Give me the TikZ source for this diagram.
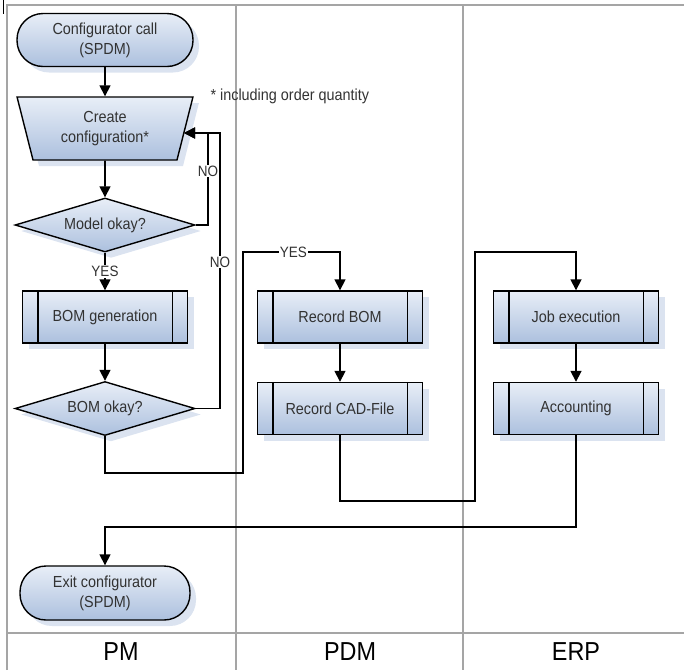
\documentclass[tikz,border=0pt]{standalone}
\usepackage{fontspec}
\setmainfont{Liberation Sans}[FakeStretch=0.9]
\usetikzlibrary{shapes.geometric,arrows.meta,shadows,calc}
\definecolor{boxtop}{RGB}{232,238,247}
\definecolor{boxbot}{RGB}{172,192,222}
\definecolor{shad}{RGB}{219,227,240}
\definecolor{txt}{RGB}{50,50,50}
\definecolor{lanecol}{RGB}{165,165,165}
\tikzset{
  base/.style={draw=black, line width=1.4pt, top color=boxtop, bottom color=boxbot,
    text=txt, font=\fontsize{16}{20}\selectfont, align=center,
    drop shadow={shadow xshift=6pt, shadow yshift=-6pt, fill=shad, opacity=1}},
  terminal/.style={base, rectangle, rounded corners=26pt, minimum width=176pt, minimum height=53pt, inner sep=2pt},
  proc/.style={base, rectangle, minimum width=165pt, minimum height=52pt},
  decision/.style={base, diamond, aspect=3.33, minimum width=180pt, minimum height=54pt, inner sep=0pt},
  manualop/.style={base, trapezium, shape border rotate=180, trapezium stretches=true,
    trapezium left angle=75.7, trapezium right angle=75.7, minimum width=176pt, minimum height=63pt},
  arr/.style={-{Triangle[length=11pt,width=11pt]}, line width=1.6pt, draw=black},
  lbl/.style={fill=white, inner sep=1pt, text=txt, font=\fontsize{15}{18}\selectfont},
  lanelbl/.style={text=black, font=\fontsize{26}{30}\selectfont},
  frame/.style={draw=lanecol, line width=2pt}
}
\begin{document}
\begin{tikzpicture}[x=1pt, y=-1pt]
\useasboundingbox (0,0) rectangle (684,670);
% frame
\draw[frame] (7,670) -- (7,5) -- (684,5);
\draw[frame] (236,5) -- (236,670);
\draw[frame] (463,5) -- (463,670);
\draw[frame] (7,633) -- (684,633);
\draw[black, line width=1.5pt] (3.5,0) -- (3.5,14);
% lane labels
\node[lanelbl] (pm) at (121,652) {PM};
\node[lanelbl] (pdm) at (350,652) {PDM};
\node[lanelbl] (erp) at (576,652) {ERP};
% note
\node[anchor=base west, text=txt, font=\fontsize{16}{20}\selectfont] (note) at (207,100) {* including order quantity};
% nodes
\node[terminal] (start) at (105,40) {Configurator call\\(SPDM)};
\node[manualop] (create) at (105,128.5) {Create\\configuration*};
\node[decision] (model) at (105,225) {Model okay?};
\node[proc] (bomgen) at (105,317) {BOM generation};
\node[decision] (bomok) at (105,408.5) {BOM okay?};
\node[proc] (recbom) at (340,317) {Record BOM};
\node[proc] (reccad) at (340,408.5) {Record CAD-File};
\node[proc] (jobex) at (576,317) {Job execution};
\node[proc] (acct) at (576,408.5) {Accounting};
\node[terminal, minimum width=170pt, minimum height=54pt] (exit) at (105,593) {Exit configurator\\(SPDM)};
% process side bars
\foreach \n in {bomgen,recbom,reccad,jobex,acct}{
  \draw[line width=1.4pt] ($(\n.north west)+(16,0)$) -- ($(\n.south west)+(16,0)$);
  \draw[line width=1.4pt] ($(\n.north east)+(-16,0)$) -- ($(\n.south east)+(-16,0)$);
}
% coordinates
\coordinate (cfgin) at (184,133);
\coordinate (n1) at (208,133);
\coordinate (n2) at (220,133);
\coordinate (j1) at (243,473);
\coordinate (j2) at (243,252);
\coordinate (j3) at (475,501);
\coordinate (j4) at (475,252);
\coordinate (j5) at (105,527);
% connectors
\draw[arr] (start) -- (create);
\draw[arr] (create) -- (model);
\draw[arr] (model.east) -| node[lbl, pos=0.793] {NO} (n1) -- (cfgin);
\draw[arr] (bomok.east) -| node[lbl, pos=0.766] {NO} (n2) -- (cfgin);
\draw[arr] (model) -- node[lbl] {YES} (bomgen);
\draw[arr] (bomgen) -- (bomok);
\draw[arr] (bomok.south) |- (j1) -- (j2) -| node[lbl, pos=0.26] {YES} (recbom.north);
\draw[arr] (recbom) -- (reccad);
\draw[arr] (reccad.south) |- (j3) -- (j4) -| (jobex.north);
\draw[arr] (jobex) -- (acct);
\draw[arr] (acct.south) |- (j5) -- (exit.north);
\end{tikzpicture}
\end{document}
